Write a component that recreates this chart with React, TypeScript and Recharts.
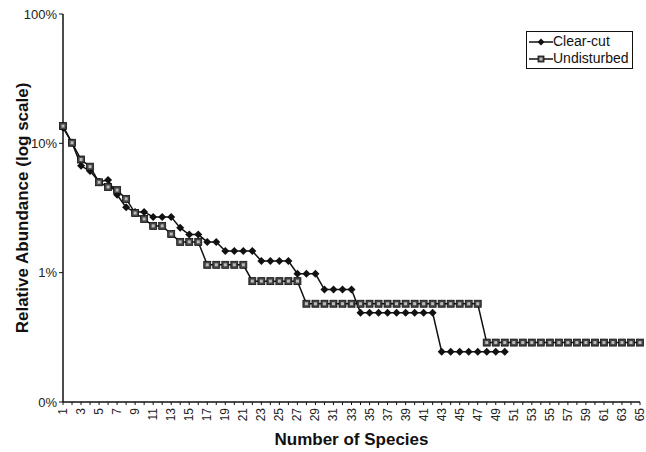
import React from "react";
import { LineChart, Line, XAxis, YAxis, Legend, Label } from "recharts";

// species rank 1..65
const species = Array.from({ length: 65 }, (_, i) => i + 1);

// relative abundance (%) by rank
const clearCut = [
  13.2, 10.1, 6.7, 6.1, 5.05, 5.2, 4.0, 3.2, 2.95, 2.95,
  2.7, 2.7, 2.7, 2.22, 1.97, 1.97, 1.73, 1.73, 1.47, 1.47,
  1.47, 1.47, 1.23, 1.23, 1.23, 1.23, 0.98, 0.98, 0.98, 0.74,
  0.74, 0.74, 0.74, 0.49, 0.49, 0.49, 0.49, 0.49, 0.49, 0.49,
  0.49, 0.49, 0.245, 0.245, 0.245, 0.245, 0.245, 0.245, 0.245, 0.245,
];

const undisturbed = [
  13.6, 10.1, 7.5, 6.6, 5.0, 4.6, 4.35, 3.72, 2.89, 2.6,
  2.3, 2.3, 1.99, 1.73, 1.73, 1.73, 1.15, 1.15, 1.15, 1.15,
  1.15, 0.86, 0.86, 0.86, 0.86, 0.86, 0.86, 0.575, 0.575, 0.575,
  0.575, 0.575, 0.575, 0.575, 0.575, 0.575, 0.575, 0.575, 0.575, 0.575,
  0.575, 0.575, 0.575, 0.575, 0.575, 0.575, 0.575, 0.288, 0.288, 0.288,
  0.288, 0.288, 0.288, 0.288, 0.288, 0.288, 0.288, 0.288, 0.288, 0.288,
  0.288, 0.288, 0.288, 0.288, 0.288,
];

const yTicks = [0.1, 1, 10, 100];

const data = species.map((n, i) => ({
  n,
  clearCut: i < clearCut.length ? clearCut[i] : null,
  undisturbed: undisturbed[i],
}));

const FONT = "'Liberation Sans', Arial, sans-serif";

function Diamond({ cx, cy, r = 4 }: { cx: number; cy: number; r?: number }) {
  return (
    <polygon
      points={`${cx},${cy - r} ${cx + r},${cy} ${cx},${cy + r} ${cx - r},${cy}`}
      fill="#111"
    />
  );
}

function Square({ cx, cy, s = 7 }: { cx: number; cy: number; s?: number }) {
  return (
    <g>
      <rect x={cx - s / 2} y={cy - s / 2} width={s} height={s} fill="#444" stroke="#111" strokeWidth={0.8} />
      <rect x={cx - 1.5} y={cy - 1.5} width={3} height={3} fill="#bbb" />
    </g>
  );
}

const XTick = (props: any) => {
  const { x, y, payload } = props;
  if (payload.value % 2 === 0) return <g />;
  return (
    <text
      x={0}
      y={0}
      transform={`translate(${x + 4},${y + 1}) rotate(-90)`}
      textAnchor="end"
      fontSize={12}
      fontFamily={FONT}
      fill="#222"
    >
      {payload.value}
    </text>
  );
};

const YTitle = (props: any) => {
  const { viewBox } = props;
  const cx = viewBox.x + 22;
  const cy = viewBox.y + viewBox.height / 2;
  return (
    <text
      x={0}
      y={0}
      transform={`translate(${cx},${cy}) rotate(-90)`}
      textAnchor="middle"
      dominantBaseline="central"
      fontFamily={FONT}
      fontSize={17}
      fontWeight="bold"
      fill="#111"
    >
      Relative Abundance (log scale)
    </text>
  );
};

const LegendBox = () => (
  <div
    style={{
      border: "1px solid #111",
      background: "#fff",
      padding: "1px 3px 1px 2px",
      fontFamily: FONT,
      fontSize: 14,
      color: "#111",
      lineHeight: "17px",
    }}
  >
    {[
      { name: "Clear-cut", marker: "d" },
      { name: "Undisturbed", marker: "s" },
    ].map((e) => (
      <div key={e.name} style={{ display: "flex", alignItems: "center" }}>
        <svg width={24} height={17}>
          <line x1={0} y1={9} x2={24} y2={9} stroke="#111" strokeWidth={1.5} />
          {e.marker === "d" ? <Diamond cx={12} cy={9} r={3.5} /> : <Square cx={12} cy={9} s={6} />}
        </svg>
        <span>{e.name}</span>
      </div>
    ))}
  </div>
);

export default function App() {
  return (
    <div style={{ position: "absolute", left: 0, top: 0, background: "#fff" }}>
      <LineChart
        width={646}
        height={452}
        data={data}
        margin={{ top: 14, right: 6, left: 0, bottom: 0 }}
      >
        <XAxis
          dataKey="n"
          type="number"
          domain={[1, 65]}
          ticks={species}
          interval={0}
          tick={<XTick />}
          tickSize={3}
          tickLine={{ stroke: "#111" }}
          axisLine={{ stroke: "#111", strokeWidth: 1.5 }}
          height={50}
        >
          <Label
            value="Number of Species"
            position="insideBottom"
            offset={7}
            style={{ fontFamily: FONT, fontSize: 17, fontWeight: "bold", fill: "#111" }}
          />
        </XAxis>
        <YAxis
          scale="log"
          type="number"
          domain={[0.1, 100]}
          ticks={yTicks}
          allowDataOverflow
          width={63}
          tickSize={4}
          tickLine={{ stroke: "#111" }}
          axisLine={{ stroke: "#111", strokeWidth: 1.5 }}
          tick={{ fontFamily: FONT, fontSize: 13, fill: "#222" }}
          tickFormatter={(v: number) => (v < 1 ? "0%" : `${v}%`)}
        >
          <Label content={<YTitle />} />
        </YAxis>
        <Legend
          verticalAlign="middle"
          align="center"
          layout="horizontal"
          content={<LegendBox />}
          wrapperStyle={{ top: 31, left: 526, width: "auto" }}
        />
        <Line
          dataKey="clearCut"
          name="Clear-cut"
          stroke="#111"
          strokeWidth={1.5}
          isAnimationActive={false}
          connectNulls={false}
          dot={(p: any) =>
            p.cy == null ? <g key={`d${p.index}`} /> : <Diamond key={`d${p.index}`} cx={p.cx} cy={p.cy} />
          }
        />
        <Line
          dataKey="undisturbed"
          name="Undisturbed"
          stroke="#111"
          strokeWidth={1.5}
          isAnimationActive={false}
          dot={(p: any) =>
            p.cy == null ? <g key={`s${p.index}`} /> : <Square key={`s${p.index}`} cx={p.cx} cy={p.cy} />
          }
        />
      </LineChart>
    </div>
  );
}
